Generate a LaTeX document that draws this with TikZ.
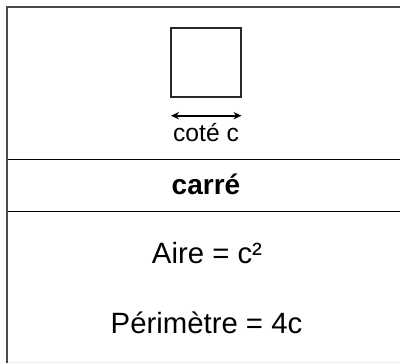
\documentclass[tikz,border=0pt]{standalone}
\usepackage{fontspec}
\setmainfont{Liberation Sans}
\usetikzlibrary{arrows.meta}

\tikzset{every picture/.style={line width=0.75pt}}
\tikzset{texte/.style={anchor=base,inner sep=0.75pt,font=\fontsize{22}{26}\selectfont}}

\begin{document}
\begin{tikzpicture}[x=0.75pt,y=0.75pt,yscale=-1,xscale=1]
\useasboundingbox (0,0) rectangle (400,363);

%Straight Lines [id:cadre]
\draw [color={rgb, 255:red, 236; green, 236; blue, 236 }  ,draw opacity=1 ][line width=0.75]  (8,362.3) -- (400,362.3) ;
\draw [color={rgb, 255:red, 74; green, 74; blue, 74 }  ,draw opacity=1 ][line width=1.5]  (7,363) -- (7,7.5) -- (400,7.5) ;
%Straight Lines [id:ligne1]
\draw [line width=1.1]  (8,159.5) -- (400,159.5) ;
%Straight Lines [id:ligne2]
\draw [line width=1.1]  (8,211.5) -- (400,211.5) ;

%Shape: Square [id:carre]
\draw (206,62.5) node (sq) [draw={rgb, 255:red, 40; green, 40; blue, 40 },line width=1.4,minimum width=52.5pt,minimum height=51.5pt,inner sep=0pt] {};
%Straight Lines [id:cote]
\coordinate (g) at (171,115.7);
\coordinate (d) at (241.5,115.7);
\draw [line width=1.3,{Stealth[length=6pt,width=5.5pt]}-{Stealth[length=6pt,width=5.5pt]}]  (g) -- (d) ;

% Text Node
\draw (206,141.7) node (lblcote) [anchor=base][inner sep=0.75pt]  [font=\fontsize{18.5}{21}\selectfont]  {coté c};
% Text Node
\draw (206,195) node (nom) [texte,font=\fontsize{21}{25}\selectfont]  {\textbf{carré}};
% Text Node
\draw (207,263.3) node (aire) [texte]  {Aire = c²};
% Text Node
\draw (206.5,333.3) node (perim) [texte]  {Périmètre = 4c};

\end{tikzpicture}
\end{document}
